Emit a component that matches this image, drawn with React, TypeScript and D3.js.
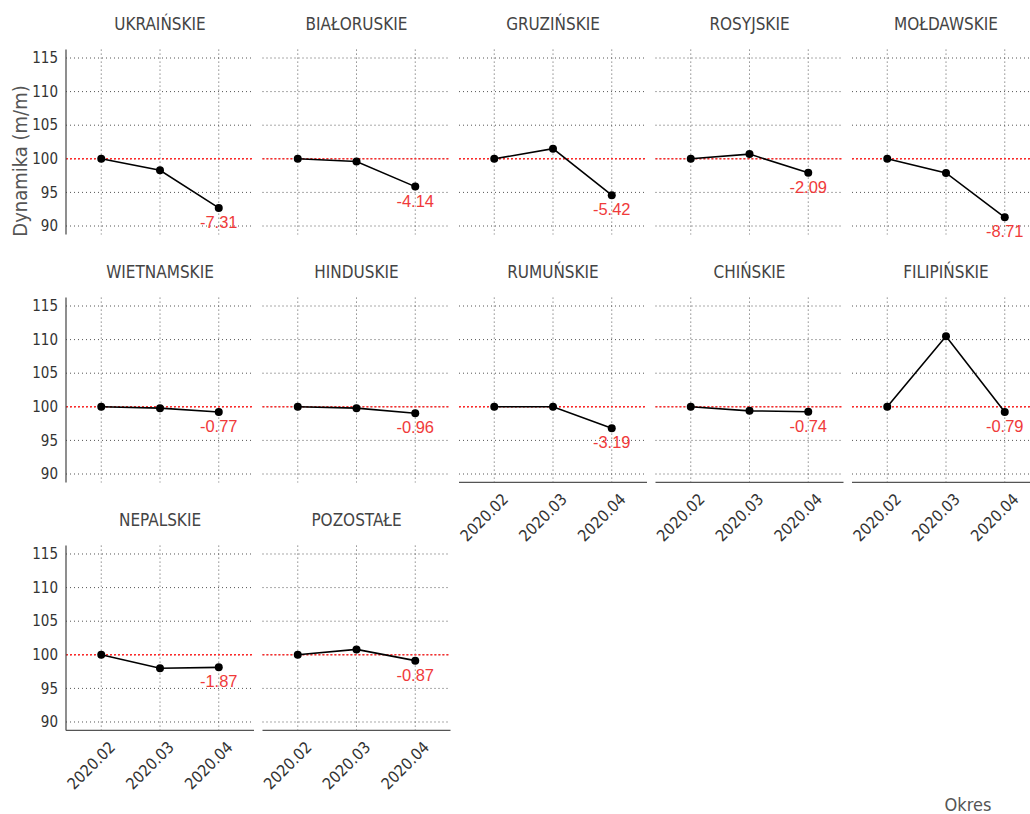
import * as d3 from "d3";
import { useEffect, useRef } from "react";

const categories = ["UKRAIŃSKIE", "BIAŁORUSKIE", "GRUZIŃSKIE", "ROSYJSKIE", "MOŁDAWSKIE", "WIETNAMSKIE", "HINDUSKIE", "RUMUŃSKIE", "CHIŃSKIE", "FILIPIŃSKIE", "NEPALSKIE", "POZOSTAŁE"];
const periods = ["2020.02", "2020.03", "2020.04"];
const feb = [100, 100, 100, 100, 100, 100, 100, 100, 100, 100, 100, 100];
const mar = [98.3, 99.6, 101.5, 100.7, 97.9, 99.8, 99.8, 100.0, 99.4, 110.5, 98.0, 100.8];
const apr = [92.69, 95.86, 94.58, 97.91, 91.29, 99.23, 99.04, 96.81, 99.26, 99.21, 98.13, 99.13];
const yTicks = [90, 95, 100, 105, 110, 115];

const condensed = "'DejaVu Sans Condensed', 'Liberation Sans Narrow', Roboto, sans-serif";

export default function App() {
  const ref = useRef<SVGSVGElement>(null);

  useEffect(() => {
    const svg = d3.select(ref.current);
    svg.selectAll("*").remove();

    const W = 1030, H = 814;
    const panelW = 188, panelStep = 196.5, left = 66;
    const rowStep = 248, top = 49.6, panelH = 184.8;
    const ncol = 5;

    svg.append("rect").attr("width", W).attr("height", H).attr("fill", "#fff");

    const x = d3.scalePoint().domain(periods).range([0, panelW]).padding(0.6);
    const y = d3.scaleLinear().domain([88.75, 116.25]).range([panelH, 0]);

    categories.forEach((cat, i) => {
      const row = Math.floor(i / ncol), col = i % ncol;
      const g = svg.append("g")
        .attr("transform", `translate(${left + col * panelStep},${top + row * rowStep})`);
      const vals = [feb[i], mar[i], apr[i]];

      // grid
      g.selectAll("line.hgrid")
        .data(yTicks)
        .enter()
        .append("line")
        .attr("x1", 0).attr("x2", panelW)
        .attr("y1", (d) => y(d)).attr("y2", (d) => y(d))
        .style("stroke", "#555")
        .style("stroke-width", 1)
        .style("stroke-dasharray", "1,3");
      g.selectAll("line.vgrid")
        .data(periods)
        .enter()
        .append("line")
        .attr("x1", (d) => x(d)!).attr("x2", (d) => x(d)!)
        .attr("y1", 0).attr("y2", panelH)
        .style("stroke", "#555")
        .style("stroke-width", 1)
        .style("stroke-dasharray", "1,3");

      // reference line at 100
      g.append("line")
        .attr("x1", 0).attr("x2", panelW)
        .attr("y1", y(100)).attr("y2", y(100))
        .style("stroke", "#ff2a2a")
        .style("stroke-width", 1.4)
        .style("stroke-dasharray", "2,2");

      // strip title
      g.append("text")
        .attr("x", panelW / 2)
        .attr("y", -20)
        .attr("text-anchor", "middle")
        .style("font-family", condensed)
        .style("font-size", "17px")
        .style("fill", "#444")
        .text(cat);

      // y axis
      if (col === 0) {
        g.append("line")
          .attr("x1", 0).attr("x2", 0)
          .attr("y1", 0).attr("y2", panelH)
          .style("stroke", "#444")
          .style("stroke-width", 1.2);
        g.selectAll("text.ytick")
          .data(yTicks)
          .enter()
          .append("text")
          .attr("x", -8)
          .attr("y", (d) => y(d))
          .attr("dy", "0.35em")
          .attr("text-anchor", "end")
          .style("font-family", condensed)
          .style("font-size", "15px")
          .style("fill", "#333")
          .text((d) => d);
      }

      // x axis
      if (i + ncol >= categories.length) {
        g.append("line")
          .attr("x1", 0).attr("x2", panelW)
          .attr("y1", panelH).attr("y2", panelH)
          .style("stroke", "#555")
          .style("stroke-width", 1.2);
        g.selectAll("text.xtick")
          .data(periods)
          .enter()
          .append("text")
          .attr("transform", (d) => `translate(${x(d)! + 7},${panelH + 10}) rotate(-45)`)
          .attr("dy", "0.7em")
          .attr("text-anchor", "end")
          .style("font-family", condensed)
          .style("font-size", "16px")
          .style("fill", "#333")
          .text((d) => d);
      }

      // series
      const line = d3.line<number>()
        .x((d, j) => x(periods[j])!)
        .y((d) => y(d));
      g.append("path")
        .attr("d", line(vals))
        .style("fill", "none")
        .style("stroke", "#000")
        .style("stroke-width", 1.6);
      g.selectAll("circle")
        .data(vals)
        .enter()
        .append("circle")
        .attr("cx", (d, j) => x(periods[j])!)
        .attr("cy", (d) => y(d))
        .attr("r", 4)
        .style("fill", "#000");

      // change label
      g.append("text")
        .attr("x", x(periods[2])!)
        .attr("y", y(apr[i]) + 20)
        .attr("text-anchor", "middle")
        .style("font-family", "'Liberation Sans', Arial, sans-serif")
        .style("font-size", "16.5px")
        .style("fill", "#f03a3a")
        .text((apr[i] - 100).toFixed(2));
    });

    // axis titles
    svg.append("text")
      .attr("transform", `translate(27,161) rotate(-90)`)
      .attr("text-anchor", "middle")
      .style("font-family", condensed)
      .style("font-size", "20px")
      .style("fill", "#555")
      .text("Dynamika (m/m)");

    svg.append("text")
      .attr("x", 968)
      .attr("y", 811)
      .attr("text-anchor", "middle")
      .style("font-family", condensed)
      .style("font-size", "18px")
      .style("fill", "#555")
      .text("Okres");
  }, []);

  return (
    <div style={{ position: "absolute", left: 0, top: 0 }}>
      <svg ref={ref} width={1030} height={814} style={{ display: "block" }} />
    </div>
  );
}
